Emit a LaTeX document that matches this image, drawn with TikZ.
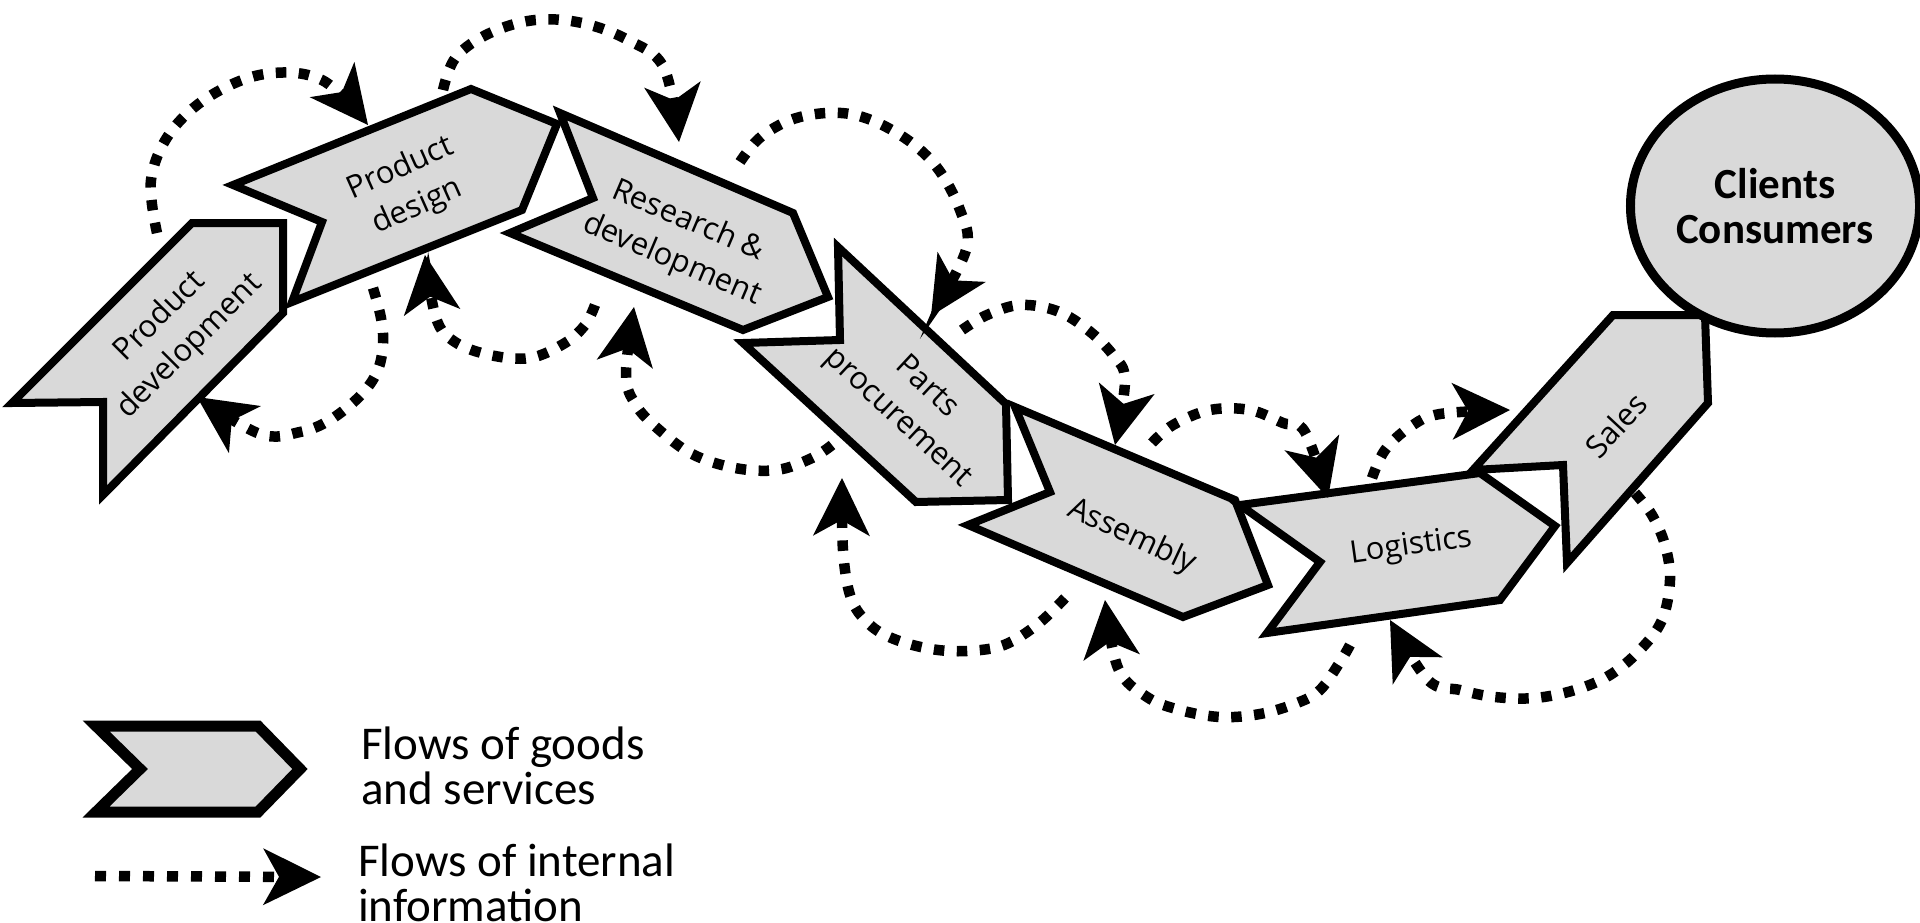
\documentclass[tikz,border=0pt]{standalone}
\usepackage{fontspec}
\setmainfont{Carlito}
\newfontfamily\osans{Open Sans}
\usetikzlibrary{arrows.meta,shapes.geometric}
\definecolor{shapegray}{RGB}{217,217,217}
\begin{document}
\begin{tikzpicture}[x=1pt,y=-1pt,
  flow/.style={draw=black,line width=8pt,fill=shapegray,line join=miter},
  info/.style={line width=10.5pt,dash pattern=on 10.5pt off 12.5pt,
    -{Stealth[length=58pt,width=57pt,inset=16pt,line width=0pt]}},
  lbl/.style={font=\osans\fontsize{31}{42}\selectfont,align=center,inner sep=0pt},
  legtext/.style={font=\fontsize{47}{45}\selectfont,align=left,inner sep=0pt,anchor=base west},
]
\useasboundingbox (0,0) rectangle (1920,923);

% flows of goods and services
\draw[flow] (192,223) -- (283,223) -- (283,313) -- (103,495) -- (103,402) -- (12,403) -- cycle;
\draw[flow] (233,185) -- (471,89) -- (557,124) -- (522,210) -- (292,302) -- (322,222) -- cycle;
\draw[flow] (560,113) -- (793,213) -- (828,297) -- (743,330) -- (510,233) -- (593,198) -- cycle;
\draw[flow] (838,247) -- (1006,404) -- (1008,500) -- (916,502) -- (743,343) -- (840,340) -- cycle;
\draw[flow] (1015,407) -- (1235,500) -- (1268,585) -- (1183,617) -- (968,525) -- (1050,492) -- cycle;
\draw[flow] (1240,505) -- (1480,473) -- (1555,526) -- (1500,600) -- (1267,633) -- (1320,562) -- cycle;
\draw[flow] (1473,470) -- (1613,315) -- (1705,315) -- (1708,403) -- (1567,563) -- (1563,465) -- cycle;
\node[ellipse,draw=black,line width=9pt,fill=shapegray,minimum width=277pt,minimum height=254pt,
  align=center,font=\bfseries\fontsize{43}{45}\selectfont] (cc) at (1775,206) {Clients\\Consumers};

\node[lbl,rotate=45] (pd1) at (175,332) {Product\\development};
\node[lbl,rotate=24] (pds) at (409,188) {Product\\design};
\node[lbl,rotate=-23] (rd) at (680,241) {Research \&\\development};
\node[lbl,rotate=-43] (pp) at (912,403) {Parts\\procurement};
\node[lbl,rotate=-25] (as) at (1132,537) {Assembly};
\node[lbl,rotate=8] (lg) at (1411,547) {Logistics};
\node[lbl,rotate=47] (sa) at (1616,425) {Sales};

% flows of internal information
\coordinate (a1s) at (157,233);  \coordinate (a1e) at (368,125);
\coordinate (a2s) at (443,90);   \coordinate (a2e) at (679,142);
\coordinate (a3s) at (740,162);  \coordinate (a3e) at (931,316);
\coordinate (a4s) at (962,330);  \coordinate (a4e) at (1115,445);
\coordinate (a5s) at (1152,443); \coordinate (a5e) at (1328,498);
\coordinate (a6s) at (1372,478); \coordinate (a6e) at (1510,410);
\coordinate (a7s) at (373,288);  \coordinate (a7e) at (197,397);
\coordinate (a8s) at (595,305);  \coordinate (a8e) at (425,255);
\coordinate (a9s) at (832,445);  \coordinate (a9e) at (634,307);
\coordinate (a10s) at (1065,598); \coordinate (a10e) at (842,478);
\coordinate (a11s) at (1350,645); \coordinate (a11e) at (1105,600);
\coordinate (a12s) at (1635,493); \coordinate (a12e) at (1390,620);

\draw[info] plot[smooth,tension=0.6] coordinates {(a1s) (151,180) (170,133) (210,96) (265,74) (322,80) (a1e)};
\draw[info] plot[smooth,tension=0.6] coordinates {(a2s) (456,57) (490,33) (535,20) (582,23) (628,40) (664,68) (a2e)};
\draw[info] plot[smooth,tension=0.6] coordinates {(a3s) (762,136) (800,117) (850,114) (897,133) (935,165) (960,210) (966,250) (a3e)};
\draw[info] plot[smooth,tension=0.6] coordinates {(a4s) (987,315) (1020,305) (1057,311) (1088,330) (1113,355) (1125,380) (a4e)};
\draw[info] plot[smooth,tension=0.6] coordinates {(a5s) (1173,425) (1210,410) (1250,410) (1283,423) (1305,432) (a5e)};
\draw[info] plot[smooth,tension=0.6] coordinates {(a6s) (1385,450) (1410,427) (1440,414) (a6e)};
\draw[info] plot[smooth,tension=0.6] coordinates {(a7s) (381,318) (383,345) (377,372) (360,396) (330,420) (300,432) (260,434) (a7e)};
\draw[info] plot[smooth,tension=0.6] coordinates {(a8s) (585,325) (565,343) (530,358) (490,355) (455,342) (436,318) (a8e)};
\draw[info] plot[smooth,tension=0.6] coordinates {(a9s) (812,458) (777,470) (735,468) (692,454) (657,428) (636,405) (626,375) (a9e)};
\draw[info] plot[smooth,tension=0.6] coordinates {(a10s) (1038,624) (1004,645) (967,651) (931,649) (894,639) (869,624) (851,598) (843,550) (a10e)};
\draw[info] plot[smooth,tension=0.6] coordinates {(a11s) (1340,662) (1320,690) (1297,703) (1260,714) (1220,717) (1180,710) (1147,697) (1118,668) (a11e)};
\draw[info] plot[smooth,tension=0.6] coordinates {(a12s) (1652,515) (1665,545) (1670,580) (1662,620) (1640,650) (1610,675) (1575,690) (1535,698) (1495,697) (1460,690) (1428,680) (a12e)};

% legend
\draw[flow,line width=11pt] (96,726) -- (258,726) -- (300,769) -- (258,812) -- (96,812) -- (140,769) -- cycle;
\node[legtext] (leg1) at (361,804) {Flows of goods\\and services};
\coordinate (lds) at (95,876); \coordinate (lde) at (321,877);
\draw[info,dash pattern=on 11pt off 13pt] (lds) -- (lde);
\node[legtext] (leg2) at (358,921) {Flows of internal\\information};
\end{tikzpicture}
\end{document}
